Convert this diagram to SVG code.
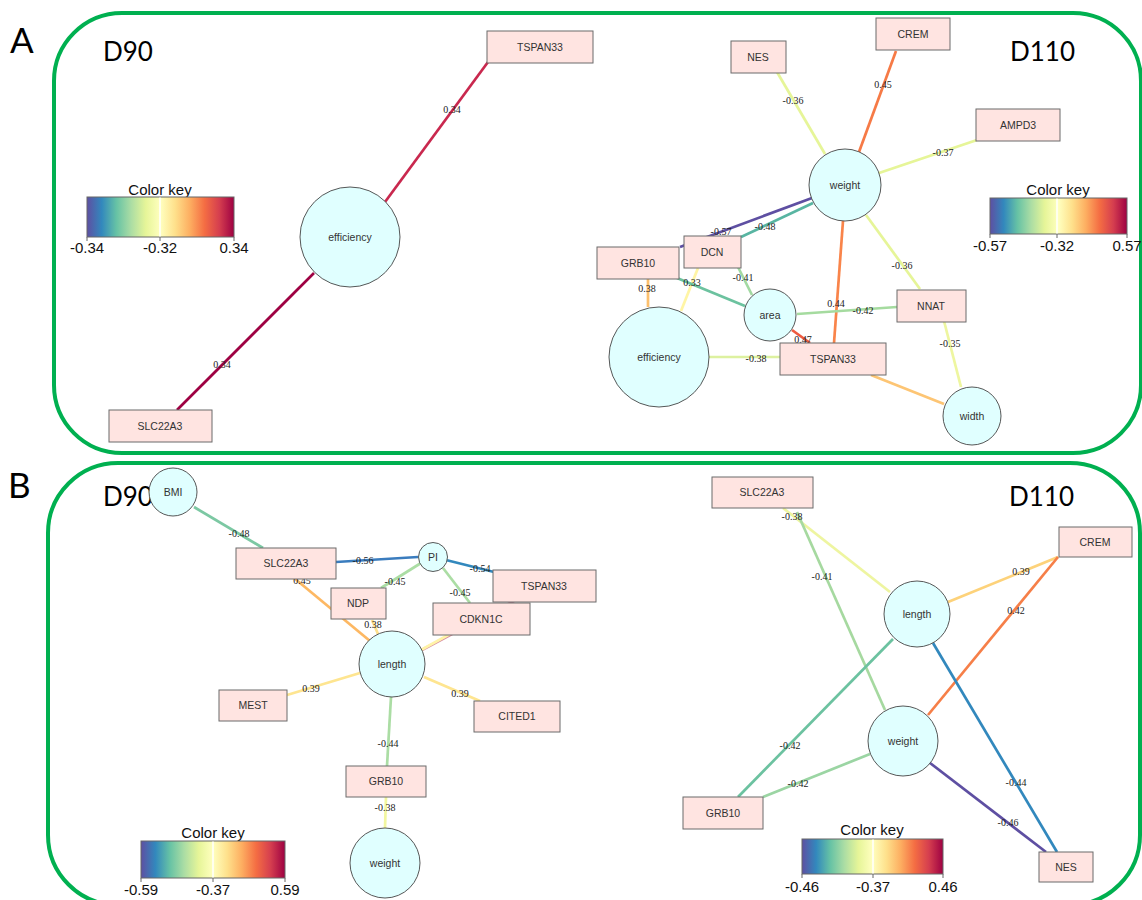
<svg xmlns="http://www.w3.org/2000/svg" width="1142" height="900" viewBox="0 0 1142 900">
<style>
.panel{fill:none;stroke:#00B050;stroke-width:4}
.big{font-family:Lato,"Open Sans","Liberation Sans",sans-serif;fill:#000}
.box{fill:#FFE4E1;stroke:#6b6b6b;stroke-width:1}
.circ{fill:#E0FFFF;stroke:#444;stroke-width:0.9}
.nl{font-family:"Liberation Sans",Arial,sans-serif;font-size:10.5px;fill:#333;text-anchor:middle}
.el{font-family:"Liberation Serif","Times New Roman",serif;font-size:10px;fill:#222;text-anchor:middle}
.e{stroke-width:2.7;fill:none;stroke-linecap:butt}
.kt{font-family:"Liberation Sans",Arial,sans-serif;font-size:15px;fill:#111;text-anchor:middle}
.kbar{fill:url(#spec);stroke:#666;stroke-width:1}
.kmid{stroke:#fff;stroke-width:1.5}
.tick{stroke:#666;stroke-width:1}
</style>
<defs>
<linearGradient id="spec" x1="0" y1="0" x2="1" y2="0">
<stop offset="0" stop-color="#5E4FA2"/>
<stop offset="0.1" stop-color="#3288BD"/>
<stop offset="0.2" stop-color="#66C2A5"/>
<stop offset="0.3" stop-color="#ABDDA4"/>
<stop offset="0.4" stop-color="#E6F598"/>
<stop offset="0.5" stop-color="#FFFFBF"/>
<stop offset="0.6" stop-color="#FEE08B"/>
<stop offset="0.7" stop-color="#FDAE61"/>
<stop offset="0.8" stop-color="#F46D43"/>
<stop offset="0.9" stop-color="#D53E4F"/>
<stop offset="1" stop-color="#9E0142"/>
</linearGradient>
</defs>
<rect width="1142" height="900" fill="#fff"/>

<g id="panels">
<rect class="panel" x="54" y="13" width="1087" height="440" rx="68" ry="68"/>
<rect class="panel" x="48" y="463" width="1092" height="442" rx="70" ry="70"/>
<text class="big" x="10" y="53" font-size="35">A</text>
<text class="big" x="8" y="498" font-size="35">B</text>
<text class="big" x="103" y="61" font-size="26">D90</text>
<text class="big" x="1075" y="61" font-size="26" text-anchor="end">D110</text>
<text class="big" x="103" y="506" font-size="26">D90</text>
<text class="big" x="1074" y="506" font-size="26" text-anchor="end">D110</text>
</g>

<g id="connectors">
<!-- A D90 -->
<line class="e" x1="385" y1="202" x2="488" y2="62" stroke="#C9284E"/>
<line class="e" x1="314" y1="273" x2="177" y2="410" stroke="#9E0142"/>
<!-- A D110 -->
<line class="e" x1="777" y1="72" x2="825" y2="154" stroke="#E6F598"/>
<line class="e" x1="896" y1="51" x2="859" y2="152" stroke="#F67A46"/>
<line class="e" x1="977" y1="140" x2="879" y2="173" stroke="#E6F598"/>
<line class="e" x1="812" y1="198" x2="680" y2="247" stroke="#5E4FA2" stroke-width="3"/>
<line class="e" x1="813" y1="203" x2="741" y2="237" stroke="#58B5A2"/>
<line class="e" x1="738" y1="267" x2="752" y2="295" stroke="#A2D9A2"/>
<line class="e" x1="698" y1="268" x2="681" y2="311" stroke="#FFF5A5"/>
<line class="e" x1="677" y1="278" x2="745" y2="306" stroke="#6CC29F"/>
<line class="e" x1="648" y1="279" x2="648" y2="307" stroke="#FDC06E"/>
<line class="e" x1="843" y1="221" x2="834" y2="343" stroke="#F9844A"/>
<line class="e" x1="866" y1="215" x2="920" y2="289" stroke="#E6F598"/>
<line class="e" x1="797" y1="314" x2="897" y2="307" stroke="#A5DB9F"/>
<line class="e" x1="792" y1="330" x2="810" y2="343" stroke="#EF5A3F" stroke-width="3"/>
<line class="e" x1="709" y1="357" x2="780" y2="357" stroke="#DDF1A0"/>
<line class="e" x1="871" y1="375" x2="944" y2="404" stroke="#FDC574"/>
<line class="e" x1="944" y1="321" x2="961" y2="387" stroke="#EEF6A0"/>
<!-- B D90 -->
<line class="e" x1="194" y1="507" x2="263" y2="548" stroke="#7CC8A3"/>
<line class="e" x1="336" y1="562" x2="418" y2="557" stroke="#3A7CBE" stroke-width="3"/>
<line class="e" x1="446" y1="560" x2="494" y2="572" stroke="#3288BD" stroke-width="3"/>
<line class="e" x1="421" y1="563" x2="381" y2="588" stroke="#ABDDA4"/>
<line class="e" x1="443" y1="568" x2="470" y2="603" stroke="#ABDDA4"/>
<line class="e" x1="544" y1="585" x2="420" y2="651" stroke="#B8375E" stroke-width="1.3" stroke-opacity="0.6"/>
<line class="e" x1="294" y1="578" x2="370" y2="641" stroke="#FDB863"/>
<line class="e" x1="372" y1="620" x2="378" y2="634" stroke="#FEE08B"/>
<line class="e" x1="450" y1="634" x2="421" y2="650" stroke="#FFF3A8"/>
<line class="e" x1="360" y1="673" x2="287" y2="695" stroke="#FEE590"/>
<line class="e" x1="424" y1="677" x2="480" y2="701" stroke="#FEE590"/>
<line class="e" x1="391" y1="697" x2="387" y2="766" stroke="#ABDDA4"/>
<line class="e" x1="386" y1="797" x2="385" y2="828" stroke="#F2F7A0"/>
<!-- B D110 -->
<line class="e" x1="783" y1="508" x2="890" y2="592" stroke="#EEF5A0"/>
<line class="e" x1="797" y1="512" x2="885" y2="710" stroke="#A6D9A0"/>
<line class="e" x1="948" y1="602" x2="1058" y2="557" stroke="#FDD27A"/>
<line class="e" x1="1058" y1="557" x2="928" y2="715" stroke="#F67F48"/>
<line class="e" x1="893" y1="639" x2="738" y2="797" stroke="#6CC2A0"/>
<line class="e" x1="933" y1="643" x2="1057" y2="852" stroke="#3288BD"/>
<line class="e" x1="763" y1="797" x2="870" y2="754" stroke="#9BD5A3"/>
<line class="e" x1="930" y1="763" x2="1046" y2="852" stroke="#5E4FA2" stroke-width="3"/>
</g>

<g id="edge-labels">
<text class="el" x="452" y="113">0.34</text>
<text class="el" x="222" y="368">0.34</text>
<text class="el" x="793" y="104">-0.36</text>
<text class="el" x="883" y="88">0.45</text>
<text class="el" x="943" y="156">-0.37</text>
<text class="el" x="721" y="235">-0.57</text>
<text class="el" x="765" y="230">-0.48</text>
<text class="el" x="743" y="281">-0.41</text>
<text class="el" x="692" y="286">0.33</text>
<text class="el" x="647" y="292">0.38</text>
<text class="el" x="836" y="307">0.44</text>
<text class="el" x="902" y="269">-0.36</text>
<text class="el" x="863" y="314">-0.42</text>
<text class="el" x="803" y="343">0.47</text>
<text class="el" x="756" y="362">-0.38</text>
<text class="el" x="950" y="347">-0.35</text>
<text class="el" x="239" y="537">-0.48</text>
<text class="el" x="363" y="564">-0.56</text>
<text class="el" x="480" y="572">-0.54</text>
<text class="el" x="395" y="585">-0.45</text>
<text class="el" x="460" y="596">-0.45</text>
<text class="el" x="302" y="584">0.45</text>
<text class="el" x="373" y="628">0.38</text>
<text class="el" x="311" y="692">0.39</text>
<text class="el" x="460" y="697">0.39</text>
<text class="el" x="388" y="747">-0.44</text>
<text class="el" x="385" y="811">-0.38</text>
<text class="el" x="792" y="520">-0.38</text>
<text class="el" x="822" y="580">-0.41</text>
<text class="el" x="1021" y="575">0.39</text>
<text class="el" x="1016" y="614">0.42</text>
<text class="el" x="790" y="749">-0.42</text>
<text class="el" x="798" y="787">-0.42</text>
<text class="el" x="1016" y="786">-0.44</text>
<text class="el" x="1008" y="826">-0.46</text>
</g>

<!-- Panel A, D90 nodes -->
<g id="a90-tspan33"><rect class="box" x="487" y="31" width="106" height="32"/><text class="nl" x="540" y="51">TSPAN33</text></g>
<g id="a90-efficiency"><circle class="circ" cx="350" cy="237" r="50"/><text class="nl" x="350" y="241">efficiency</text></g>
<g id="a90-slc22a3"><rect class="box" x="109" y="410" width="103" height="32"/><text class="nl" x="160" y="430">SLC22A3</text></g>

<!-- Panel A, D110 nodes -->
<g id="a110-nes"><rect class="box" x="731" y="41" width="55" height="32"/><text class="nl" x="758" y="61">NES</text></g>
<g id="a110-crem"><rect class="box" x="876" y="18" width="74" height="32"/><text class="nl" x="913" y="38">CREM</text></g>
<g id="a110-ampd3"><rect class="box" x="976" y="109" width="84" height="32"/><text class="nl" x="1018" y="129">AMPD3</text></g>
<g id="a110-weight"><circle class="circ" cx="845" cy="185" r="36"/><text class="nl" x="845" y="189">weight</text></g>
<g id="a110-grb10"><rect class="box" x="597" y="247" width="82" height="32"/><text class="nl" x="638" y="267">GRB10</text></g>
<g id="a110-dcn"><rect class="box" x="684" y="236" width="57" height="32"/><text class="nl" x="712" y="256">DCN</text></g>
<g id="a110-area"><circle class="circ" cx="770" cy="315" r="26"/><text class="nl" x="770" y="319">area</text></g>
<g id="a110-nnat"><rect class="box" x="897" y="290" width="69" height="32"/><text class="nl" x="931" y="310">NNAT</text></g>
<g id="a110-efficiency"><circle class="circ" cx="659" cy="357" r="50"/><text class="nl" x="659" y="361">efficiency</text></g>
<g id="a110-tspan33"><rect class="box" x="780" y="343" width="106" height="32"/><text class="nl" x="833" y="363">TSPAN33</text></g>
<g id="a110-width"><circle class="circ" cx="972" cy="416" r="29"/><text class="nl" x="972" y="420">width</text></g>

<!-- Panel B, D90 nodes -->
<g id="b90-bmi"><circle class="circ" cx="173" cy="492" r="24"/><text class="nl" x="173" y="496">BMI</text></g>
<g id="b90-slc22a3"><rect class="box" x="236" y="548" width="100" height="31"/><text class="nl" x="286" y="567">SLC22A3</text></g>
<g id="b90-pi"><circle class="circ" cx="433" cy="557" r="14.5"/><text class="nl" x="433" y="561">PI</text></g>
<g id="b90-tspan33"><rect class="box" x="493" y="570" width="103" height="32"/><text class="nl" x="544" y="590">TSPAN33</text></g>
<g id="b90-ndp"><rect class="box" x="331" y="588" width="55" height="31"/><text class="nl" x="358" y="607">NDP</text></g>
<g id="b90-cdkn1c"><rect class="box" x="433" y="603" width="97" height="32"/><text class="nl" x="481" y="623">CDKN1C</text></g>
<g id="b90-length"><circle class="circ" cx="392" cy="664" r="33"/><text class="nl" x="392" y="668">length</text></g>
<g id="b90-mest"><rect class="box" x="219" y="690" width="68" height="31"/><text class="nl" x="253" y="709">MEST</text></g>
<g id="b90-cited1"><rect class="box" x="474" y="701" width="86" height="31"/><text class="nl" x="517" y="720">CITED1</text></g>
<g id="b90-grb10"><rect class="box" x="346" y="766" width="80" height="31"/><text class="nl" x="386" y="785">GRB10</text></g>
<g id="b90-weight"><circle class="circ" cx="385" cy="863" r="35"/><text class="nl" x="385" y="867">weight</text></g>

<!-- Panel B, D110 nodes -->
<g id="b110-slc22a3"><rect class="box" x="712" y="477" width="101" height="31"/><text class="nl" x="762" y="496">SLC22A3</text></g>
<g id="b110-crem"><rect class="box" x="1059" y="527" width="73" height="30"/><text class="nl" x="1095" y="546">CREM</text></g>
<g id="b110-length"><circle class="circ" cx="917" cy="614" r="33"/><text class="nl" x="917" y="618">length</text></g>
<g id="b110-weight"><circle class="circ" cx="903" cy="741" r="35"/><text class="nl" x="903" y="745">weight</text></g>
<g id="b110-grb10"><rect class="box" x="683" y="797" width="80" height="32"/><text class="nl" x="723" y="817">GRB10</text></g>
<g id="b110-nes"><rect class="box" x="1039" y="852" width="54" height="30"/><text class="nl" x="1066" y="871">NES</text></g>

<!-- Color keys -->
<g id="key-a90">
<text class="kt" x="160" y="195">Color key</text>
<rect class="kbar" x="87" y="197" width="147" height="40"/>
<line class="kmid" x1="160" y1="197.5" x2="160" y2="236.5"/>
<path class="tick" d="M87 237v4M160 237v4M234 237v4"/>
<text class="kt" x="87" y="253">-0.34</text>
<text class="kt" x="160" y="253">-0.32</text>
<text class="kt" x="234" y="253">0.34</text>
</g>
<g id="key-a110">
<text class="kt" x="1058" y="195">Color key</text>
<rect class="kbar" x="990" y="198" width="137" height="36"/>
<line class="kmid" x1="1057" y1="198.5" x2="1057" y2="233.5"/>
<path class="tick" d="M990 234v4M1057 234v4M1127 234v4"/>
<text class="kt" x="990" y="251">-0.57</text>
<text class="kt" x="1057" y="251">-0.32</text>
<text class="kt" x="1127" y="251">0.57</text>
</g>
<g id="key-b90">
<text class="kt" x="213" y="838">Color key</text>
<rect class="kbar" x="141" y="841" width="144" height="37"/>
<line class="kmid" x1="213" y1="841.5" x2="213" y2="877.5"/>
<path class="tick" d="M141 878v4M213 878v4M285 878v4"/>
<text class="kt" x="141" y="895">-0.59</text>
<text class="kt" x="213" y="895">-0.37</text>
<text class="kt" x="285" y="895">0.59</text>
</g>
<g id="key-b110">
<text class="kt" x="872" y="835">Color key</text>
<rect class="kbar" x="802" y="839" width="141" height="35"/>
<line class="kmid" x1="873" y1="839.5" x2="873" y2="873.5"/>
<path class="tick" d="M802 874v4M873 874v4M943 874v4"/>
<text class="kt" x="802" y="892">-0.46</text>
<text class="kt" x="873" y="892">-0.37</text>
<text class="kt" x="943" y="892">0.46</text>
</g>
</svg>
